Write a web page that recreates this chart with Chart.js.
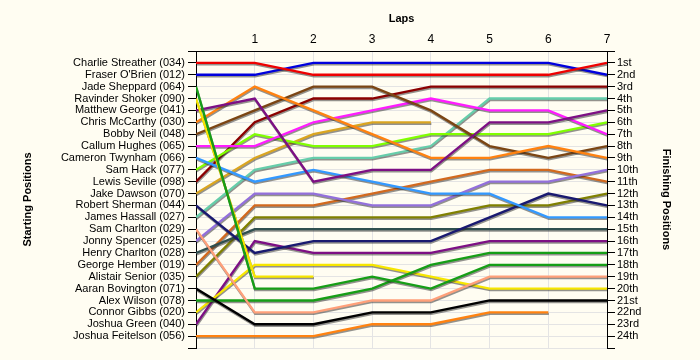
<!DOCTYPE html>
<html>
<head>
<meta charset="utf-8">
<script src="https://cdn.jsdelivr.net/npm/chart.js@4.4.1/dist/chart.umd.min.js"></script>
<style>
  html, body { margin: 0; padding: 0; background: #fffdf2; }
  #wrap { width: 700px; height: 360px; }
</style>
</head>
<body>
<div id="wrap"><canvas id="lapChart" width="700" height="360"></canvas></div>
<script>
// laps on the x axis
const laps = [0, 1, 2, 3, 4, 5, 6, 7];

// drivers in starting order (left axis)
const startingOrder = [
  "Charlie Streather (034)", "Fraser O'Brien (012)", "Jade Sheppard (064)",
  "Ravinder Shoker (090)", "Matthew George (041)", "Chris McCarthy (030)",
  "Bobby Neil (048)", "Callum Hughes (065)", "Cameron Twynham (066)",
  "Sam Hack (077)", "Lewis Seville (098)", "Jake Dawson (070)",
  "Robert Sherman (044)", "James Hassall (027)", "Sam Charlton (029)",
  "Jonny Spencer (025)", "Henry Charlton (028)", "George Hember (019)",
  "Alistair Senior (035)", "Aaran Bovington (071)", "Alex Wilson (078)",
  "Connor Gibbs (020)", "Joshua Green (040)", "Joshua Feitelson (056)"
];

// right axis labels
const finishLabels = [
  "1st", "2nd", "3rd", "4th", "5th", "6th", "7th", "8th", "9th", "10th",
  "11th", "12th", "13th", "14th", "15th", "16th", "17th", "18th", "19th",
  "20th", "21st", "22nd", "23rd", "24th"
];

// position of each driver at laps 0..7 (null = retired)
const charlieStreather = [1, 1, 2, 2, 2, 2, 2, 1];
const fraserOBrien     = [2, 2, 1, 1, 1, 1, 1, 2];
const jadeSheppard     = [3, 20, 20, 19, 20, 18, 18, 18];
const ravinderShoker   = [4, 19, 19, null, null, null, null, null];
const matthewGeorge    = [5, 4, 11, 10, 10, 6, 6, 5];
const chrisMcCarthy    = [6, 3, 5, 7, 9, 9, 8, 9];
const bobbyNeil        = [7, 5, 3, 3, 5, 8, 9, 8];
const callumHughes     = [8, 8, 6, 5, 4, 5, 5, 7];
const cameronTwynham   = [9, 11, 10, 11, 12, 12, 14, 14];
const samHack          = [10, 7, 8, 8, 7, 7, 7, 6];
const lewisSeville     = [11, 6, 4, 4, 3, 3, 3, 3];
const jakeDawson       = [12, 9, 7, 6, 6, null, null, null];
const robertSherman    = [13, 17, 16, 16, 16, 14, 12, 13];
const jamesHassall     = [14, 10, 9, 9, 8, 4, 4, 4];
const samCharlton      = [15, 22, 22, 21, 21, 19, 19, 19];
const jonnySpencer     = [16, 12, 12, 13, 13, 11, 11, 10];
const henryCharlton    = [17, 15, 15, 15, 15, 15, 15, 15];
const georgeHember     = [18, 13, 13, 12, 11, 10, 10, 11];
const alistairSenior   = [19, 14, 14, 14, 14, 13, 13, 12];
const aaranBovington   = [20, 23, 23, 22, 22, 21, 21, 21];
const alexWilson       = [21, 21, 21, 20, 18, 17, 17, 17];
const connorGibbs      = [22, 18, 18, 18, 19, 20, 20, 20];
const joshuaGreen      = [23, 16, 17, 17, 17, 16, 16, 16];
const joshuaFeitelson  = [24, 24, 24, 23, 23, 22, 22, null];

const positionsByDriver = [
  charlieStreather, fraserOBrien, jadeSheppard, ravinderShoker, matthewGeorge,
  chrisMcCarthy, bobbyNeil, callumHughes, cameronTwynham, samHack, lewisSeville,
  jakeDawson, robertSherman, jamesHassall, samCharlton, jonnySpencer,
  henryCharlton, georgeHember, alistairSenior, aaranBovington, alexWilson,
  connorGibbs, joshuaGreen, joshuaFeitelson
];

const lineColors = [
  "#ee0000", "#0000dd", "#169e16", "#f7e600", "#7d0f84", "#ff8210",
  "#7b4513", "#ff1cff", "#3399ff", "#80ff00", "#8b0000", "#daa520",
  "#191970", "#66cdaa", "#ffa07a", "#9370db", "#2f4f4f", "#d2691e",
  "#808000", "#000000", "#169e16", "#f7e600", "#7d0f84", "#ff8210"
];

const datasets = positionsByDriver.map((positions, i) => ({
  label: startingOrder[i],
  data: laps.map((lap, j) => ({ x: lap, y: positions[j] })),
  borderColor: lineColors[i],
  backgroundColor: lineColors[i],
  borderWidth: 2.3,
  pointRadius: 0,
  tension: 0,
  spanGaps: false,
}));

const allTicks = (n) => Array.from({ length: n + 1 }, (_, i) => ({ value: i }));

// grey drop shadow under every line
const lineShadow = {
  id: "lineShadow",
  beforeDatasetsDraw(chart) {
    const c = chart.ctx;
    c.save();
    c.shadowColor = "rgba(40,40,40,0.5)";
    c.shadowOffsetX = 0.5;
    c.shadowOffsetY = 1.5;
    c.shadowBlur = 0.5;
  },
  afterDatasetsDraw(chart) {
    chart.ctx.restore();
  },
};

const labelFont = { family: "'Liberation Sans', Arial, sans-serif", size: 11 };
const titleFont = { family: "'Liberation Sans', Arial, sans-serif", size: 11, weight: "bold" };

new Chart(document.getElementById("lapChart"), {
  type: "line",
  data: { datasets },
  plugins: [lineShadow],
  options: {
    responsive: false,
    animation: false,
    layout: { padding: { left: 0, right: 0, top: 0, bottom: 12 } },
    plugins: {
      legend: { display: false },
      tooltip: { enabled: false },
    },
    scales: {
      x: {
        type: "linear",
        position: "top",
        min: 0,
        max: 7,
        afterBuildTicks: (axis) => { axis.ticks = allTicks(7); },
        afterFit: (axis) => {
          axis.height = 51;
          axis.paddingLeft = 0;
          axis.paddingRight = 0;
        },
        grid: { color: "#e4e4e4", lineWidth: 1, drawTicks: false },
        border: { display: true, color: "#000", width: 1 },
        ticks: {
          color: "#000",
          font: { ...labelFont, size: 12 },
          padding: 4,
          maxRotation: 0,
          autoSkip: false,
          callback: (v) => (v === 0 ? "" : String(v)),
        },
        title: {
          display: true,
          text: "Laps",
          color: "#000",
          font: titleFont,
          padding: { top: 12, bottom: 0 },
        },
      },
      y: {
        type: "linear",
        position: "left",
        min: 0,
        max: 25,
        reverse: true,
        afterBuildTicks: (axis) => { axis.ticks = allTicks(25); },
        afterFit: (axis) => {
          axis.width = 196;
          axis.paddingTop = 0;
          axis.paddingBottom = 0;
        },
        grid: { color: "#e4e4e4", tickColor: "#000", tickLength: 8, lineWidth: 1 },
        border: { display: true, color: "#000", width: 1 },
        ticks: {
          color: "#000",
          font: labelFont,
          padding: 3,
          autoSkip: false,
          callback: (v) => startingOrder[v - 1] || "",
        },
        title: {
          display: true,
          text: "Starting Positions",
          color: "#000",
          font: titleFont,
          padding: { top: 21, bottom: 0 },
        },
      },
      y2: {
        type: "linear",
        position: "right",
        min: 0,
        max: 25,
        reverse: true,
        afterBuildTicks: (axis) => { axis.ticks = allTicks(25); },
        afterFit: (axis) => {
          axis.width = 93;
          axis.paddingTop = 0;
          axis.paddingBottom = 0;
        },
        grid: { drawOnChartArea: false, tickColor: "#000", tickLength: 8 },
        border: { display: true, color: "#000", width: 1 },
        ticks: {
          color: "#000",
          font: labelFont,
          padding: 2,
          autoSkip: false,
          callback: (v) => finishLabels[v - 1] || "",
        },
        title: {
          display: true,
          text: "Finishing Positions",
          color: "#000",
          font: titleFont,
          padding: { top: 27, bottom: 0 },
        },
      },
    },
  },
});
</script>
</body>
</html>
